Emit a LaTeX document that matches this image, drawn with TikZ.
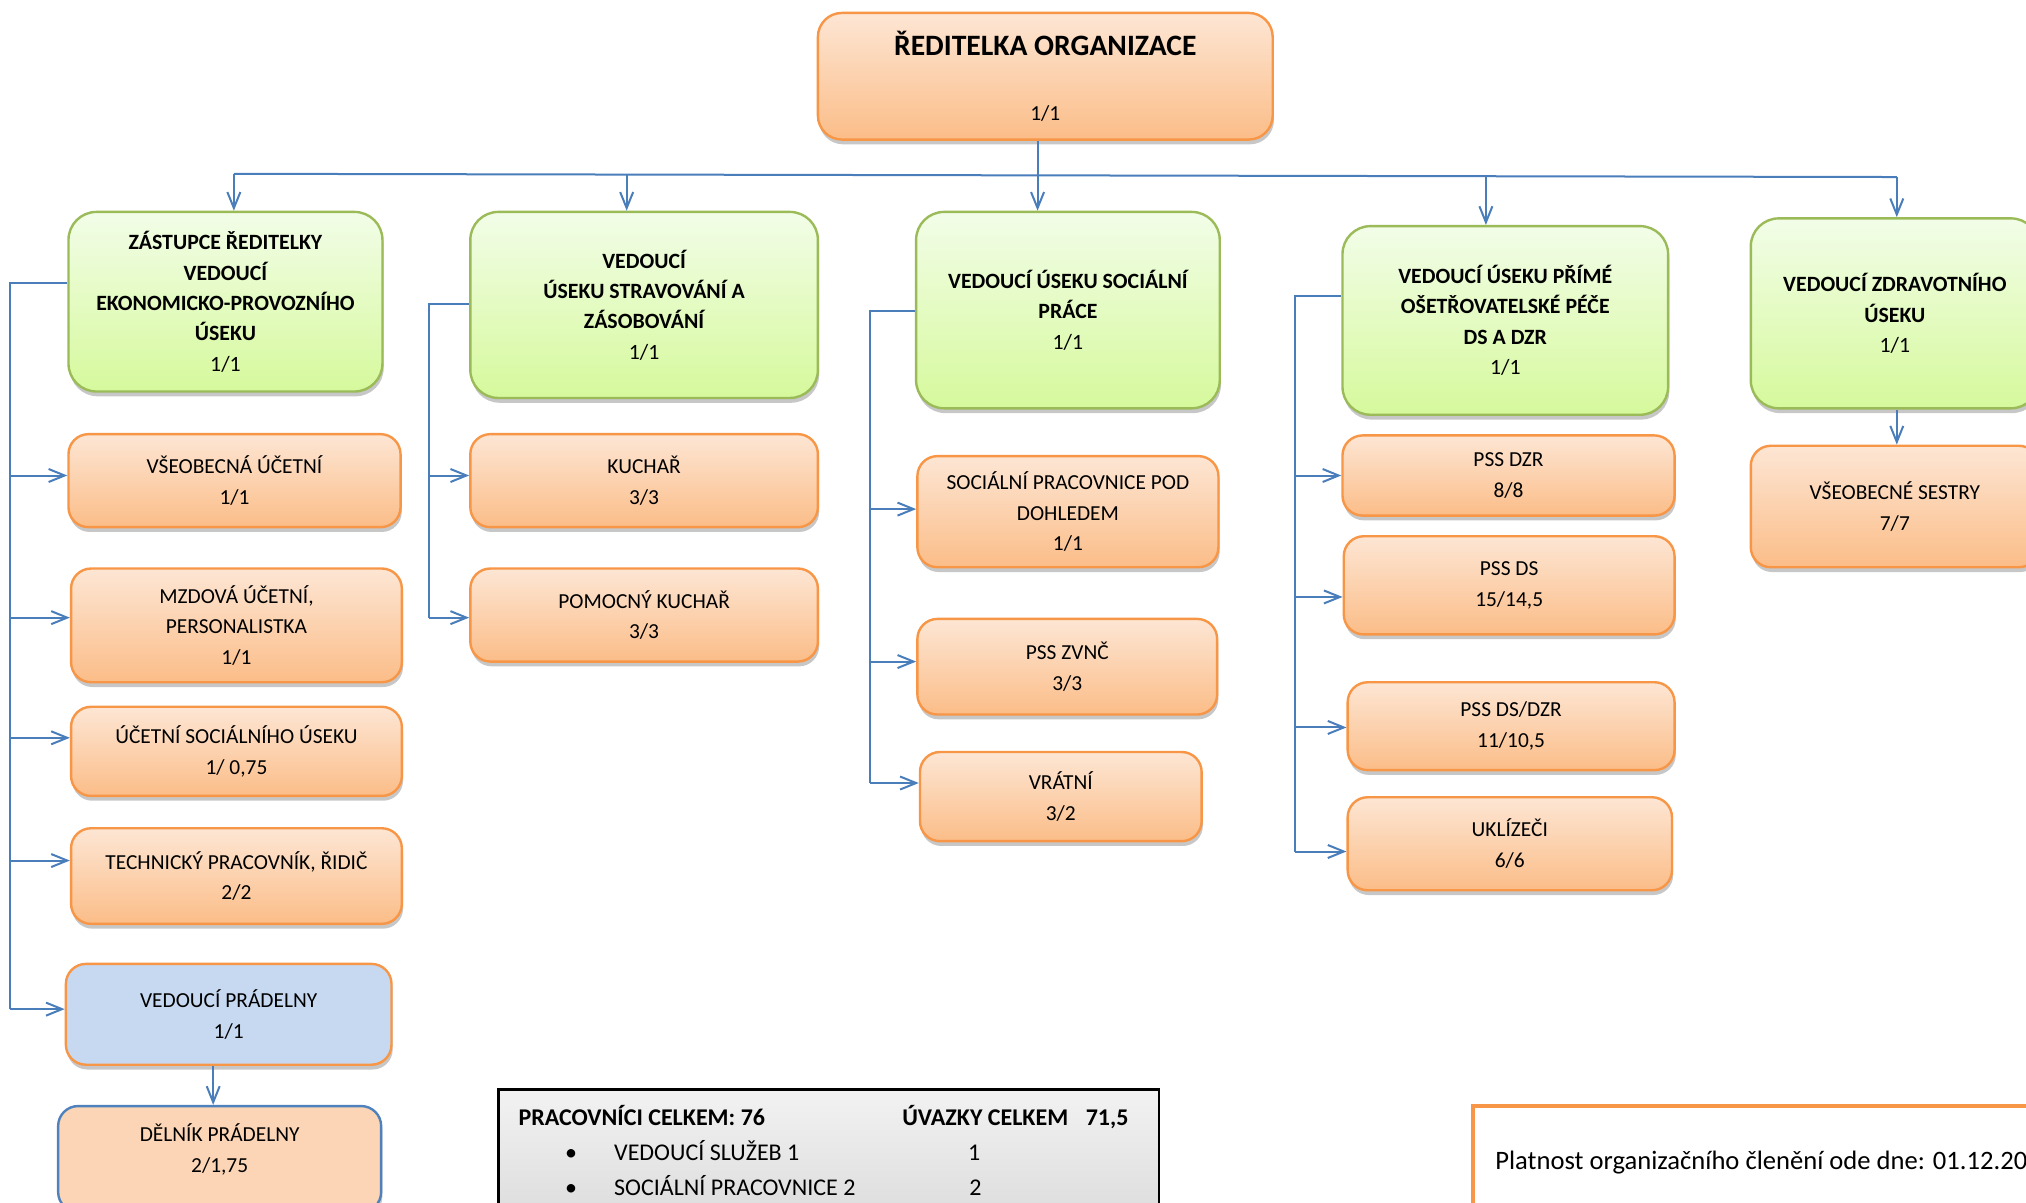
\documentclass[tikz,border=0pt]{standalone}
\usepackage{fontspec}
\setmainfont{Carlito}
\usetikzlibrary{arrows.meta,shadows,calc}
\definecolor{orB}{HTML}{F79646}
\definecolor{orT}{HTML}{FDE6D4}
\definecolor{orBot}{HTML}{FBBD88}
\definecolor{grB}{HTML}{9BBB59}
\definecolor{grT}{HTML}{F2FDE8}
\definecolor{grBot}{HTML}{D6F99C}
\definecolor{blF}{HTML}{C6D9F1}
\definecolor{blB}{HTML}{4F81BD}
\definecolor{pch}{HTML}{FBD5B5}
\definecolor{linkblue}{HTML}{4A7EBB}
\newcommand\bx[7]{\node[#1, minimum width={(#5-#3)*0.646pt}, minimum height={(#6-#4)*0.646pt}] (#2) at ({(#3+#5)/2},{(#4+#6)/2}) {#7};}
\newcommand\harrow[3]{\path ($(#2.west)+(0,#3)$) coordinate (#2-in); \draw[arr] (#1 |- #2-in) -- (#2-in);}
\tikzset{
  basebox/.style={rounded corners=10pt, line width=1.2pt, align=center, inner sep=2pt,
    font=\fontsize{10.7}{15.4}\selectfont,
    drop shadow={shadow xshift=0.6pt, shadow yshift=-2.4pt, opacity=0.22, fill=black}},
  obox/.style={basebox, draw=orB, top color=orT, bottom color=orBot},
  tbox/.style={obox, rounded corners=12pt},
  gbox/.style={basebox, rounded corners=14pt, draw=grB, top color=grT, bottom color=grBot,
    font=\bfseries\fontsize{10.9}{15.2}\selectfont},
  bbox/.style={basebox, draw=orB, fill=blF},
  pbox/.style={basebox, draw=blB, fill=pch},
  link/.style={draw=linkblue, line width=1pt},
  arr/.style={link, -{Straight Barb[length=8pt,width=6.5pt,line width=1pt]}},
  txt/.style={font=\fontsize{10.7}{15.4}\selectfont, inner sep=0pt},
  ttxt/.style={font=\fontsize{12}{15}\selectfont, inner sep=0pt, anchor=base west},
  tbold/.style={ttxt, font=\bfseries\fontsize{12}{15}\selectfont}
}
\begin{document}
\begin{tikzpicture}[x=0.646pt, y=-0.646pt]
\useasboundingbox (0,0) rectangle (1568,931);

% top
\bx{tbox}{top}{633}{10}{985}{108}{{\fontsize{14.8}{17}\selectfont\bfseries ŘEDITELKA ORGANIZACE}\\[17pt] 1/1}

% green managers
\bx{gbox}{g1}{53}{164}{296}{303}{ZÁSTUPCE ŘEDITELKY\\ VEDOUCÍ\\ EKONOMICKO-PROVOZNÍHO\\ ÚSEKU\\ \mdseries 1/1}
\bx{gbox}{g2}{364}{164}{633}{308}{VEDOUCÍ\\ ÚSEKU STRAVOVÁNÍ A\\ ZÁSOBOVÁNÍ\\ \mdseries 1/1}
\bx{gbox}{g3}{709}{164}{944}{316}{VEDOUCÍ ÚSEKU SOCIÁLNÍ\\ PRÁCE\\ \mdseries 1/1}
\bx{gbox}{g4}{1039}{175}{1291}{321}{VEDOUCÍ ÚSEKU PŘÍMÉ\\ OŠETŘOVATELSKÉ PÉČE\\ DS A DZR\\ \mdseries 1/1}
\bx{gbox}{g5}{1355}{169}{1578}{316}{VEDOUCÍ ZDRAVOTNÍHO\\ ÚSEKU\\ \mdseries 1/1}

% column 1
\bx{obox}{o11}{53}{336}{310}{408}{VŠEOBECNÁ ÚČETNÍ\\ 1/1}
\bx{obox}{o12}{55}{440}{311}{528}{MZDOVÁ ÚČETNÍ,\\ PERSONALISTKA\\ 1/1}
\bx{obox}{o13}{55}{547}{311}{616}{ÚČETNÍ SOCIÁLNÍHO ÚSEKU\\ 1/ 0,75}
\bx{obox}{o14}{55}{641}{311}{715}{TECHNICKÝ PRACOVNÍK, ŘIDIČ\\ 2/2}
\bx{bbox}{o15}{51}{746}{303}{824}{VEDOUCÍ PRÁDELNY\\ 1/1}
\bx{pbox}{o16}{45}{856}{295}{938}{}
\node[txt, align=center] (o16t) at (170,889.5) {DĚLNÍK PRÁDELNY\\ 2/1,75};

% column 2
\bx{obox}{o21}{364}{336}{633}{408}{KUCHAŘ\\ 3/3}
\bx{obox}{o22}{364}{440}{633}{512}{POMOCNÝ KUCHAŘ\\ 3/3}

% column 3
\bx{obox}{o31}{710}{353}{943}{439}{SOCIÁLNÍ PRACOVNICE POD\\ DOHLEDEM\\ 1/1}
\bx{obox}{o32}{710}{479}{942}{553}{PSS ZVNČ\\ 3/3}
\bx{obox}{o33}{712}{582}{930}{651}{VRÁTNÍ\\ 3/2}

% column 4
\bx{obox}{o41}{1039}{337}{1296}{399}{PSS DZR\\ 8/8}
\bx{obox}{o42}{1040}{415}{1296}{491}{PSS DS\\ 15/14,5}
\bx{obox}{o43}{1043}{528}{1296}{596}{PSS DS/DZR\\ 11/10,5}
\bx{obox}{o44}{1043}{617}{1294}{689}{UKLÍZEČI\\ 6/6}

% column 5
\bx{obox}{o51}{1355}{345}{1578}{439}{VŠEOBECNÉ SESTRY\\ 7/7}

% top connectors
\coordinate (a1) at (181,134.5);
\coordinate (a2) at (485,135);
\coordinate (a3) at (803,135.5);
\coordinate (a4) at (1150,136);
\coordinate (a5) at (1468,137);
\path ($(top.south)+(-6,0)$) coordinate (t-out);
\draw[link] (a1) -- (a5);
\draw[arr] (t-out) -- (t-out |- g3.north);
\draw[arr] (a1) -- (a1 |- g1.north);
\draw[arr] (a2) -- (a2 |- g2.north);
\draw[arr] (a4) -- (a4 |- g4.north);
\draw[arr] (a5) -- (a5 |- g5.north);
\draw[arr] (g5.south -| a5) -- (a5 |- o51.north);

% bus coordinates
\coordinate (b1) at (8,0);
\coordinate (b2) at (332,0);
\coordinate (b3) at (673,0);
\coordinate (b4) at (1002,0);
\coordinate (pr) at (165,0);

% column 1
\harrow{b1}{o11}{-4}
\harrow{b1}{o12}{-6}
\harrow{b1}{o13}{-10.5}
\harrow{b1}{o14}{-12}
\harrow{b1}{o15}{-4}
\path ($(g1.west)+(0,-14.5)$) coordinate (g1-out);
\draw[link] (g1-out) -| (b1 |- o15-in);
\draw[arr] (o15.south -| pr) -- (pr |- o16.north);

% column 2
\harrow{b2}{o21}{-4}
\harrow{b2}{o22}{2}
\path ($(g2.west)+(0,-1)$) coordinate (g2-out);
\draw[link] (g2-out) -| (b2 |- o22-in);

% column 3
\harrow{b3}{o31}{-2}
\harrow{b3}{o32}{-4}
\harrow{b3}{o33}{-10.5}
\path ($(g3.west)+(0,1)$) coordinate (g3-out);
\draw[link] (g3-out) -| (b3 |- o33-in);

% column 4
\harrow{b4}{o41}{0}
\harrow{b4}{o42}{9}
\harrow{b4}{o43}{1}
\harrow{b4}{o44}{6}
\path ($(g4.west)+(0,-19)$) coordinate (g4-out);
\draw[link] (g4-out) -| (b4 |- o44-in);

% summary table
\node[draw=black, line width=1.3pt, top color=black!5, bottom color=black!15,
  minimum width={(897-386)*0.646pt}, minimum height={(960-843)*0.646pt},
  drop shadow={shadow xshift=0.6pt, shadow yshift=-2pt, opacity=0.2, fill=black}]
  (tab) at ({(386+897)/2},{(843+960)/2}) {};
\node[tbold] (t1) at (401,871) {PRACOVNÍCI CELKEM: 76};
\node[tbold] (t2) at (698,871) {ÚVAZKY CELKEM};
\node[tbold] (t3) at (840,871) {71,5};
\node[ttxt, anchor=base] (bu1) at (442,898) {•};
\node[ttxt] (t4) at (475,898) {VEDOUCÍ SLUŽEB 1};
\node[ttxt, anchor=base] (t5) at (754,898) {1};
\node[ttxt, anchor=base] (bu2) at (442,925) {•};
\node[ttxt] (t6) at (475,925) {SOCIÁLNÍ PRACOVNICE 2};
\node[ttxt, anchor=base] (t7) at (755,925) {2};

% validity box
\node[draw=orB, line width=2.2pt, fill=white,
  minimum width={(1640-1140)*0.646pt}, minimum height={(970-856)*0.646pt}]
  (val) at ({(1140+1640)/2},{(856+970)/2}) {};
\node[txt, anchor=base west, font=\fontsize{13.3}{16}\selectfont] (vt) at (1157,905) {Platnost organizačního členění ode dne: 01.12.20};
\end{tikzpicture}
\end{document}
